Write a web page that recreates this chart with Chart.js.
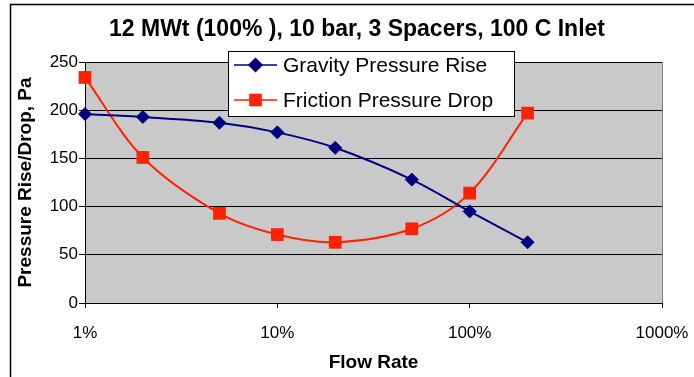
<!DOCTYPE html>
<html>
<head>
<meta charset="utf-8">
<script src="https://cdn.jsdelivr.net/npm/chart.js@4.4.1/dist/chart.umd.min.js"></script>
<style>
    html, body { margin: 0; padding: 0; background: #fff; }
</style>
</head>
<body>
<canvas id="grafico" width="694" height="377"></canvas>
<script>
// dados
const vazoes      = [1, 2, 5, 10, 20, 50, 100, 200];           // Flow Rate (%)
const gravidade   = [196, 193, 187, 177, 161, 128, 95, 63];    // Gravity Pressure Rise, Pa
const atrito      = [234, 151, 93, 71, 63, 77, 114, 197];      // Friction Pressure Drop, Pa
const ticksX      = [1, 10, 100, 1000];
const rotulosX    = ['1%', '10%', '100%', '1000%'];
const ticksY      = [0, 50, 100, 150, 200, 250];
const nomesSeries = ['Gravity Pressure Rise', 'Friction Pressure Drop'];

const FONTE = '"Liberation Sans", Arial, sans-serif';
const AZUL = '#000080';
const VERMELHO = '#FF2200';

const pontos = (ys) => vazoes.map((x, i) => ({ x, y: ys[i] }));

// fundo branco, moldura externa e área de plotagem cinza
const fundo = {
    id: 'fundo',
    beforeDraw(chart) {
        const { ctx, chartArea: a } = chart;
        ctx.save();
        ctx.fillStyle = '#fff';
        ctx.fillRect(0, 0, chart.width, chart.height);
        ctx.strokeStyle = '#000';
        ctx.lineWidth = 1.5;
        ctx.beginPath();
        ctx.moveTo(10.5, chart.height);
        ctx.lineTo(10.5, 4.5);
        ctx.lineTo(chart.width, 4.5);
        ctx.stroke();
        ctx.fillStyle = '#C9C9C9';
        ctx.fillRect(a.left, a.top, a.right - a.left, a.bottom - a.top);
        ctx.strokeStyle = '#808080';
        ctx.lineWidth = 1;
        ctx.beginPath();
        ctx.moveTo(a.left, a.top + 0.5);
        ctx.lineTo(Math.round(a.right) + 0.5, a.top + 0.5);
        ctx.lineTo(Math.round(a.right) + 0.5, a.bottom);
        ctx.stroke();
        ctx.restore();
    }
};

// legenda dentro da área do gráfico, com caixa branca
const legenda = {
    id: 'legenda',
    afterDraw(chart) {
        const { ctx } = chart;
        const caixa = { x: 228, y: 51, w: 286, h: 65 };
        ctx.save();
        ctx.fillStyle = '#fff';
        ctx.fillRect(caixa.x, caixa.y, caixa.w, caixa.h);
        ctx.strokeStyle = '#000';
        ctx.lineWidth = 1;
        ctx.strokeRect(caixa.x + 0.5, caixa.y + 0.5, caixa.w, caixa.h);
        ctx.font = `21px ${FONTE}`;
        ctx.textBaseline = 'middle';
        chart.data.datasets.forEach((ds, i) => {
            const y = caixa.y + 14 + i * 35;
            ctx.strokeStyle = ds.borderColor;
            ctx.lineWidth = 1.5;
            ctx.beginPath();
            ctx.moveTo(caixa.x + 6, y);
            ctx.lineTo(caixa.x + 49, y);
            ctx.stroke();
            ctx.fillStyle = ds.pointBackgroundColor;
            ctx.strokeStyle = ds.pointBorderColor;
            Chart.helpers.drawPoint(ctx, {
                pointStyle: ds.pointStyle, radius: ds.pointRadius,
                borderWidth: ds.pointBorderWidth, rotation: 0
            }, caixa.x + 27.5, y);
            ctx.fillStyle = '#000';
            ctx.fillText(ds.label, caixa.x + 55, y + 1);
        });
        ctx.restore();
    }
};

new Chart(document.getElementById('grafico'), {
    type: 'line',
    data: {
        datasets: [
            {
                label: nomesSeries[0], data: pontos(gravidade),
                borderColor: AZUL, borderWidth: 2,
                pointStyle: 'rectRot', pointRadius: 6.5, pointBorderWidth: 1,
                pointBackgroundColor: AZUL, pointBorderColor: AZUL,
                tension: 0.33, clip: false
            },
            {
                label: nomesSeries[1], data: pontos(atrito),
                borderColor: VERMELHO, borderWidth: 2,
                pointStyle: 'rect', pointRadius: 9, pointBorderWidth: 0,
                pointBackgroundColor: VERMELHO, pointBorderColor: VERMELHO,
                tension: 0.33, clip: false
            }
        ]
    },
    options: {
        responsive: false,
        animation: false,
        events: [],
        // padding à esquerda só para centralizar o título como no original
        layout: { padding: { top: 0, right: 0, bottom: 0, left: 20 } },
        plugins: {
            legend: { display: false },
            tooltip: { enabled: false },
            title: {
                display: true,
                text: '12 MWt (100% ), 10 bar, 3 Spacers, 100 C Inlet',
                color: '#000',
                font: { family: FONTE, size: 23, weight: 'bold' },
                padding: { top: 16, bottom: 18.4 }
            }
        },
        scales: {
            x: {
                type: 'logarithmic',
                min: 1, max: 1000,
                afterBuildTicks: (s) => { s.ticks = ticksX.map(v => ({ value: v })); },
                afterFit: (s) => { s.height = 74; s.paddingRight = 32; },
                ticks: {
                    autoSkip: false, maxRotation: 0, padding: 15,
                    color: '#000',
                    font: { family: FONTE, size: 17 },
                    callback: (v) => { const i = ticksX.indexOf(v); return i >= 0 ? rotulosX[i] : ''; }
                },
                grid: { drawOnChartArea: false, tickLength: 5, color: '#000' },
                border: { color: '#000', width: 1 },
                title: {
                    display: true, text: 'Flow Rate', color: '#000',
                    font: { family: FONTE, size: 19, weight: 'bold' },
                    padding: { top: 0, bottom: 3 }
                }
            },
            y: {
                min: 0, max: 250,
                afterBuildTicks: (s) => { s.ticks = ticksY.map(v => ({ value: v })); },
                afterFit: (s) => { s.width = 65; },
                ticks: {
                    padding: 1, color: '#000',
                    font: { family: FONTE, size: 17 }
                },
                grid: { color: '#000', tickLength: 6, tickColor: '#000' },
                border: { color: '#000', width: 1 },
                title: {
                    display: true, text: 'Pressure Rise/Drop, Pa', color: '#000',
                    font: { family: FONTE, size: 19, weight: 'bold' },
                    padding: { top: -6, bottom: 0 }
                }
            }
        }
    },
    plugins: [fundo, legenda]
});
</script>
</body>
</html>
